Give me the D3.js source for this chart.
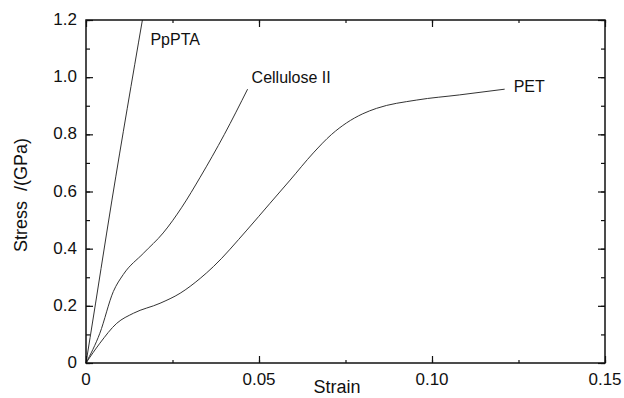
<!DOCTYPE html>
<html>
<head>
<meta charset="utf-8">
<script src="https://cdn.jsdelivr.net/npm/d3@7"></script>
<style>
  body { margin: 0; background: #fff; }
  svg text { font-family: "Liberation Sans", Arial, sans-serif; fill: #111; }
</style>
</head>
<body>
<svg id="chart" width="624" height="398"></svg>
<script>
// values
const ppptaStrain = [0, 0.0012, 0.0075, 0.0163];
const ppptaStress = [0, 0.09, 0.57, 1.2];

const celluloseStrain = [0, 0.004, 0.0079, 0.0108, 0.0166, 0.0223, 0.0277, 0.033, 0.04, 0.0467];
const celluloseStress = [0, 0.104, 0.25, 0.31, 0.384, 0.455, 0.545, 0.65, 0.80, 0.958];

const petStrain = [0, 0.004, 0.0089, 0.0137, 0.0214, 0.0272, 0.033, 0.0368, 0.0465, 0.0532, 0.059, 0.0657, 0.071, 0.0753, 0.08, 0.084, 0.0956, 0.108, 0.121];
const petStress = [0, 0.069, 0.139, 0.174, 0.209, 0.244, 0.296, 0.337, 0.465, 0.559, 0.64, 0.735, 0.80, 0.84, 0.872, 0.891, 0.92, 0.938, 0.958];

const seriesNames = ['PpPTA', 'Cellulose II', 'PET'];

const xTicks = [0, 0.05, 0.10, 0.15];
const xTickLabels = ['0', '0.05', '0.10', '0.15'];
const yTicks = [0, 0.2, 0.4, 0.6, 0.8, 1.0, 1.2];
const yTickLabels = ['0', '0.2', '0.4', '0.6', '0.8', '1.0', '1.2'];

const svg = d3.select('#chart');
const plotLeft = 86, plotTop = 20, plotRight = 605, plotBottom = 363;

const x = d3.scaleLinear().domain([0, 0.15]).range([plotLeft, plotRight]);
const y = d3.scaleLinear().domain([0, 1.2]).range([plotBottom, plotTop]);

// build series from the arrays (dx in px, dy in GPa for the label offset)
const series = [
  { name: seriesNames[0], pts: ppptaStrain.map((s, i) => [s, ppptaStress[i]]), dx: 8, dy: -0.087 },
  { name: seriesNames[1], pts: celluloseStrain.map((s, i) => [s, celluloseStress[i]]), dx: 4, dy: 0.02 },
  { name: seriesNames[2], pts: petStrain.map((s, i) => [s, petStress[i]]), dx: 9, dy: -0.01 }
];

const line = d3.line()
  .x(d => x(d[0]))
  .y(d => y(d[1]))
  .curve(d3.curveMonotoneX);

svg.append('g')
  .selectAll('path')
  .data(series)
  .join('path')
    .attr('d', d => line(d.pts))
    .attr('fill', 'none')
    .attr('stroke', '#333')
    .attr('stroke-width', 1);

// curve labels next to the last point
svg.append('g')
  .selectAll('text')
  .data(series)
  .join('text')
    .attr('x', d => x(d.pts[d.pts.length - 1][0]) + d.dx)
    .attr('y', d => y(d.pts[d.pts.length - 1][1] + d.dy))
    .attr('font-size', 16)
    .text(d => d.name);

// axes: inward ticks on all four sides
const minorX = d3.range(0, 0.1501, 0.025);
const minorY = d3.range(0, 1.2001, 0.1);

svg.append('g')
  .attr('transform', 'translate(0,' + plotBottom + ')')
  .call(d3.axisTop(x).tickValues(minorX).tickSize(3).tickFormat(''));
svg.append('g')
  .attr('transform', 'translate(0,' + plotBottom + ')')
  .call(d3.axisTop(x).tickValues(xTicks).tickSize(7).tickFormat(''));
svg.append('g')
  .attr('transform', 'translate(0,' + plotTop + ')')
  .call(d3.axisBottom(x).tickValues(minorX).tickSize(3).tickFormat(''));
svg.append('g')
  .attr('transform', 'translate(0,' + plotTop + ')')
  .call(d3.axisBottom(x).tickValues(xTicks).tickSize(7).tickFormat(''));

svg.append('g')
  .attr('transform', 'translate(' + plotLeft + ',0)')
  .call(d3.axisRight(y).tickValues(minorY).tickSize(4).tickFormat(''));
svg.append('g')
  .attr('transform', 'translate(' + plotLeft + ',0)')
  .call(d3.axisRight(y).tickValues(yTicks).tickSize(7).tickFormat(''));
svg.append('g')
  .attr('transform', 'translate(' + plotRight + ',0)')
  .call(d3.axisLeft(y).tickValues(minorY).tickSize(4).tickFormat(''));
svg.append('g')
  .attr('transform', 'translate(' + plotRight + ',0)')
  .call(d3.axisLeft(y).tickValues(yTicks).tickSize(7).tickFormat(''));

svg.selectAll('.domain').remove();
svg.selectAll('.tick line').attr('stroke', '#111').attr('stroke-width', 1.2);

// frame
svg.append('rect')
  .attr('x', plotLeft).attr('y', plotTop)
  .attr('width', plotRight - plotLeft).attr('height', plotBottom - plotTop)
  .attr('fill', 'none')
  .attr('stroke', '#111')
  .attr('stroke-width', 1.5);

// tick labels
svg.append('g')
  .selectAll('text')
  .data(xTicks)
  .join('text')
    .attr('x', d => x(d))
    .attr('y', plotBottom + 22)
    .attr('text-anchor', 'middle')
    .attr('font-size', 17)
    .text((d, i) => xTickLabels[i]);

svg.append('g')
  .selectAll('text')
  .data(yTicks)
  .join('text')
    .attr('x', plotLeft - 9)
    .attr('y', d => y(d) + 5)
    .attr('text-anchor', 'end')
    .attr('font-size', 17)
    .text((d, i) => yTickLabels[i]);

// axis titles
svg.append('text')
  .attr('x', 337)
  .attr('y', 393)
  .attr('text-anchor', 'middle')
  .attr('font-size', 18)
  .text('Strain');

svg.append('text')
  .attr('transform', 'translate(27,195) rotate(-90)')
  .attr('text-anchor', 'middle')
  .attr('font-size', 18)
  .attr('xml:space', 'preserve')
  .text('Stress  /(GPa)');
</script>
</body>
</html>
